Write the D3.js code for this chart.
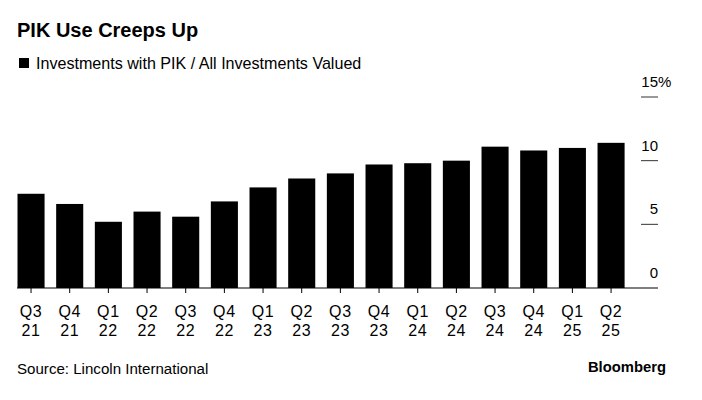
<!DOCTYPE html>
<html>
<head>
<meta charset="utf-8">
<script src="https://cdn.jsdelivr.net/npm/d3@7"></script>
<style>
  body { margin: 0; background: #fff; }
  svg { display: block; font-family: "Liberation Sans", Arial, sans-serif; }
</style>
</head>
<body>
<div id="chart"></div>
<script>
// PIK share of investments, by quarter
const quarters = ['Q3','Q4','Q1','Q2','Q3','Q4','Q1','Q2','Q3','Q4','Q1','Q2','Q3','Q4','Q1','Q2'];
const years    = ['21','21','22','22','22','22','23','23','23','23','24','24','24','24','25','25'];
const pikShare = [7.4, 6.6, 5.2, 6.0, 5.6, 6.8, 7.9, 8.6, 9.0, 9.7, 9.8, 10.0, 11.1, 10.8, 11.0, 11.4];
const yTicks = [0, 5, 10, 15];

const width = 702, height = 400;
const svg = d3.select('#chart').append('svg')
  .attr('width', width)
  .attr('height', height);

const cats = quarters.map((q, i) => q + ' ' + years[i]);

const x = d3.scaleBand()
  .domain(cats)
  .range([11.7, 630.4])
  .paddingInner(0.3)
  .paddingOuter(0.15);

const y = d3.scaleLinear()
  .domain([0, 15])
  .range([288, 97]);

// title + legend
svg.append('text')
  .attr('x', 17).attr('y', 37)
  .attr('font-size', 20).attr('font-weight', 'bold')
  .text('PIK Use Creeps Up');

svg.append('rect')
  .attr('x', 19).attr('y', 58).attr('width', 10).attr('height', 10)
  .attr('fill', '#000');
svg.append('text')
  .attr('x', 36).attr('y', 69)
  .attr('font-size', 16.1)
  .text('Investments with PIK / All Investments Valued');

// bars
svg.append('g').selectAll('rect')
  .data(pikShare)
  .enter().append('rect')
  .attr('x', (d, i) => x(cats[i]))
  .attr('y', d => y(d))
  .attr('width', x.bandwidth())
  .attr('height', d => y(0) - y(d))
  .attr('fill', '#000');

// y axis on the right
const yAxis = svg.append('g');
yAxis.selectAll('line')
  .data(yTicks.filter(t => t > 0))
  .enter().append('line')
  .attr('x1', 641).attr('x2', 658)
  .attr('y1', d => y(d)).attr('y2', d => y(d))
  .attr('stroke', '#333').attr('stroke-width', 1);
yAxis.selectAll('text')
  .data(yTicks)
  .enter().append('text')
  .attr('x', 658)
  .attr('y', d => y(d) - 10)
  .attr('text-anchor', 'end')
  .attr('font-size', 15)
  .text(d => d);
yAxis.append('text')
  .attr('x', 658).attr('y', y(15) - 10)
  .attr('font-size', 15)
  .text('%');

// baseline + category ticks
svg.append('line')
  .attr('x1', 17).attr('x2', 658)
  .attr('y1', y(0)).attr('y2', y(0))
  .attr('stroke', '#000').attr('stroke-width', 1.2);

const xAxis = svg.append('g').selectAll('g')
  .data(cats)
  .enter().append('g')
  .attr('transform', d => `translate(${x(d) + x.bandwidth() / 2},0)`);
xAxis.append('line')
  .attr('y1', y(0)).attr('y2', y(0) + 5)
  .attr('stroke', '#000');
xAxis.append('text')
  .attr('y', 316.5)
  .attr('text-anchor', 'middle')
  .attr('font-size', 16)
  .attr('letter-spacing', 0.6)
  .text((d, i) => quarters[i]);
xAxis.append('text')
  .attr('y', 335.5)
  .attr('text-anchor', 'middle')
  .attr('font-size', 16)
  .attr('letter-spacing', 0.6)
  .text((d, i) => years[i]);

// footer
svg.append('text')
  .attr('x', 17).attr('y', 374)
  .attr('font-size', 15.1)
  .text('Source: Lincoln International');
svg.append('text')
  .attr('x', 666).attr('y', 372)
  .attr('text-anchor', 'end')
  .attr('font-size', 14.8).attr('font-weight', 'bold')
  .text('Bloomberg');
</script>
</body>
</html>
